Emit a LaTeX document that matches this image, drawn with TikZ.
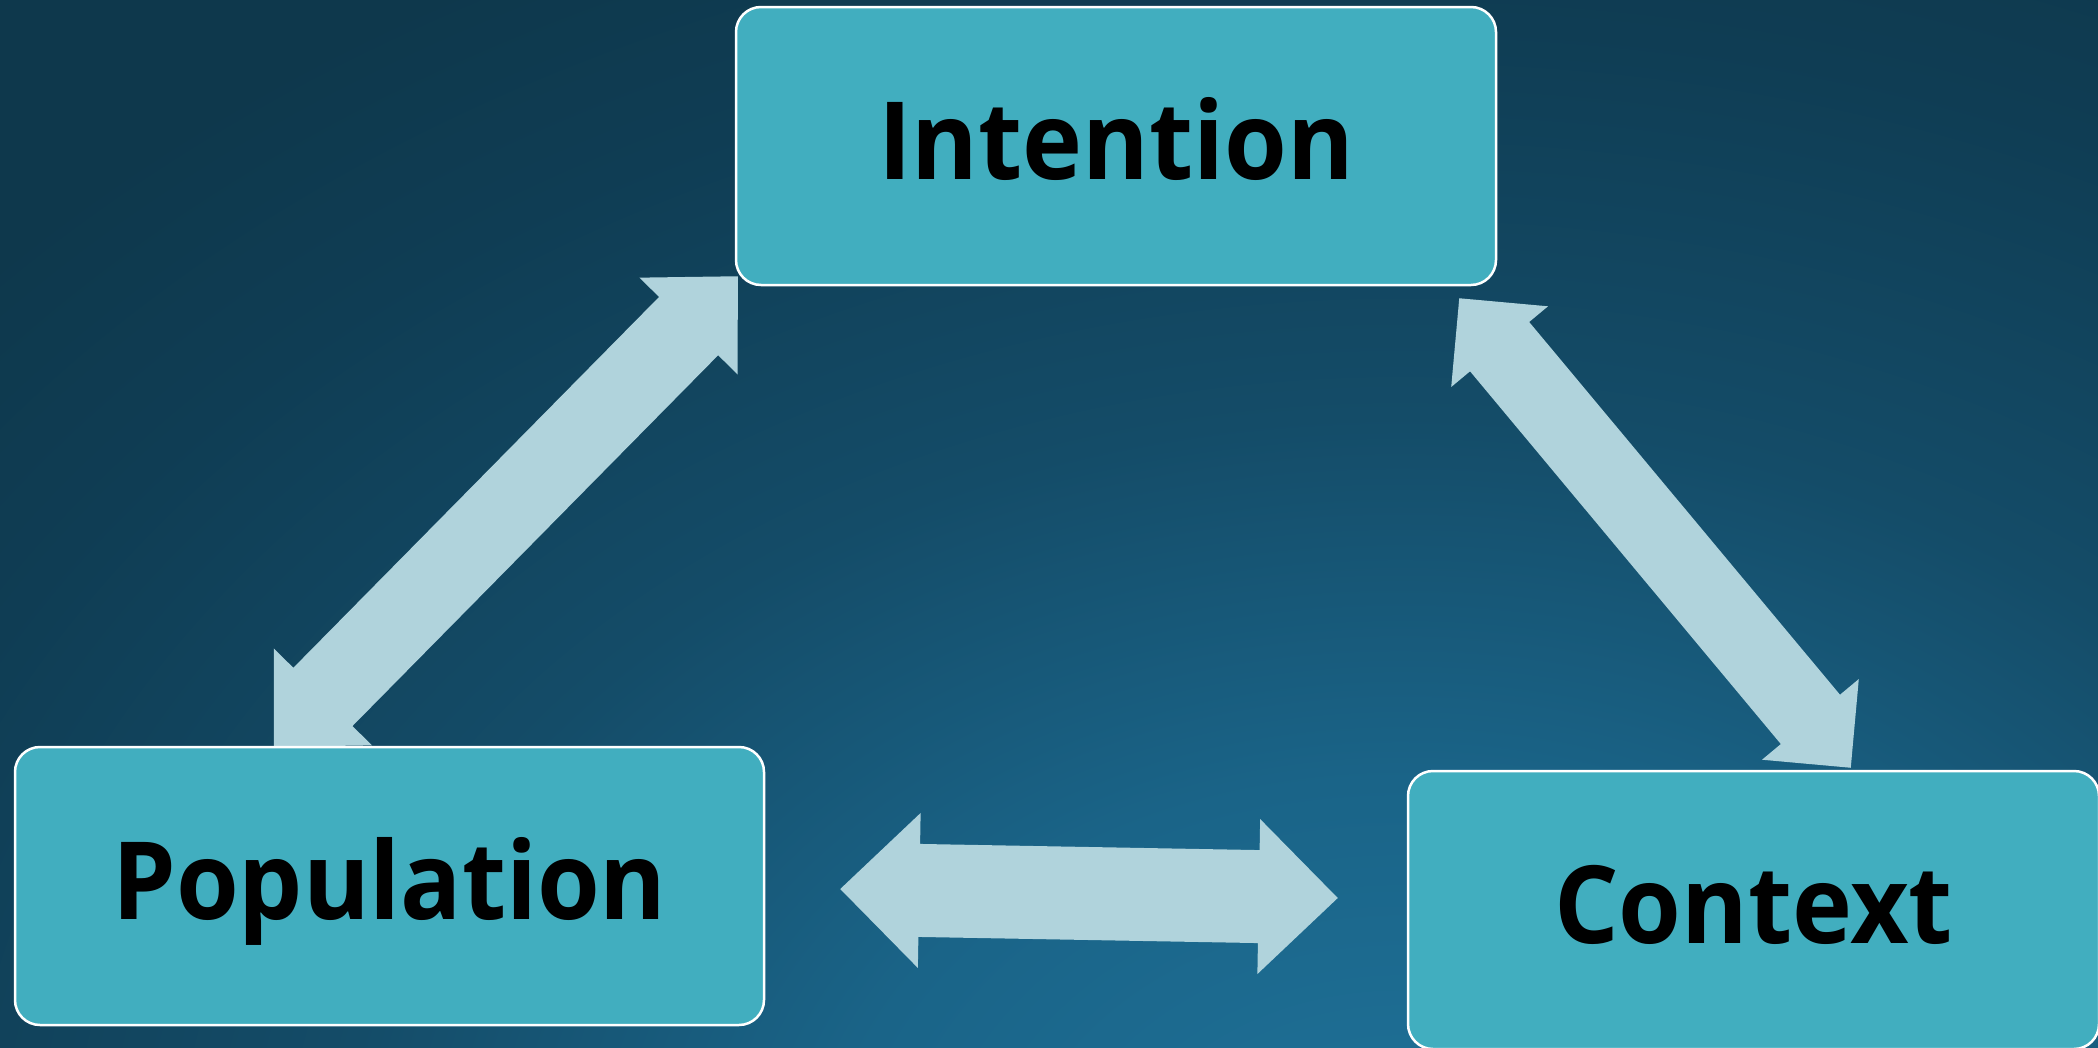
\documentclass[tikz,border=0pt]{standalone}
\usepackage{fontspec}
\newfontfamily\boxfont{Open Sans}[FakeStretch=0.94]
\usetikzlibrary{calc}
\definecolor{bgA}{HTML}{1F7299}
\definecolor{bgB}{HTML}{1A6488}
\definecolor{bgC}{HTML}{144C68}
\definecolor{bgD}{HTML}{0F3D54}
\definecolor{bgE}{HTML}{0E384C}
\definecolor{boxfill}{HTML}{41AEBF}
\definecolor{arrowfill}{HTML}{B0D3DC}
\pgfdeclareradialshading{bgrad}{\pgfpoint{0bp}{0bp}}{color(0bp)=(bgA); color(7.5bp)=(bgB); color(14bp)=(bgC); color(21bp)=(bgD); color(25bp)=(bgE); color(50bp)=(bgE)}
\pgfdeclarelayer{bglayer}
\pgfdeclarelayer{arrlayer}
\pgfsetlayers{bglayer,arrlayer,main}
% #1 tip A, #2 tip B, #3 head length, #4 half head width, #5 half shaft width
\newcommand{\dblarrow}[5]{%
  \fill[arrowfill] (#1)
    -- ($(#1)!#3pt!(#2)!#4pt!90:(#2)$)
    -- ($(#1)!#3pt!(#2)!#5pt!90:(#2)$)
    -- ($(#2)!#3pt!(#1)!#5pt!-90:(#1)$)
    -- ($(#2)!#3pt!(#1)!#4pt!-90:(#1)$)
    -- (#2)
    -- ($(#2)!#3pt!(#1)!#4pt!90:(#1)$)
    -- ($(#2)!#3pt!(#1)!#5pt!90:(#1)$)
    -- ($(#1)!#3pt!(#2)!#5pt!-90:(#2)$)
    -- ($(#1)!#3pt!(#2)!#4pt!-90:(#2)$)
    -- cycle;}
\tikzset{
  box/.style={draw=white, line width=2.5pt, fill=boxfill, rounded corners=25pt,
    inner sep=0pt, text=black, minimum height=278pt,
    font={\boxfont\bfseries\fontsize{108pt}{120pt}\selectfont},
    text height=77pt, text depth=10pt}
}
\begin{document}
\begin{tikzpicture}[x=1pt,y=-1pt]
\useasboundingbox (0,0) rectangle (2098,1047);
\begin{pgfonlayer}{bglayer}
  \begin{scope}
    \clip (0,0) rectangle (2098,1047);
    \fill[bgE] (0,0) rectangle (2098,1047);
    \shade[shading=bgrad] (1400,1200) ellipse [x radius=1900, y radius=1400];
  \end{scope}
\end{pgfonlayer}

\node[box, minimum width=760pt] (int) at (1116,146) {Intention};
\node[box, minimum width=749pt] (pop) at (389.5,886) {Population};
\node[box, minimum width=691pt] (ctx) at (1753.5,910) {Context};

\coordinate (a1) at ($(pop.north west)+(260,1)$);
\coordinate (b1) at ($(int.south west)+(3,-10)$);
\coordinate (a2) at ($(pop.east)+(75,3)$);
\coordinate (b2) at ($(ctx.west)+(-69,-12)$);
\coordinate (a3) at ($(int.south east)+(-38,12)$);
\coordinate (b3) at ($(ctx.north west)+(444,-2)$);

\begin{pgfonlayer}{arrlayer}
  \dblarrow{a1}{b1}{70}{69}{41.5}
  \dblarrow{a2}{b2}{79}{77.5}{46.5}
  \dblarrow{a3}{b3}{63}{63}{38.5}
\end{pgfonlayer}
\end{tikzpicture}
\end{document}
